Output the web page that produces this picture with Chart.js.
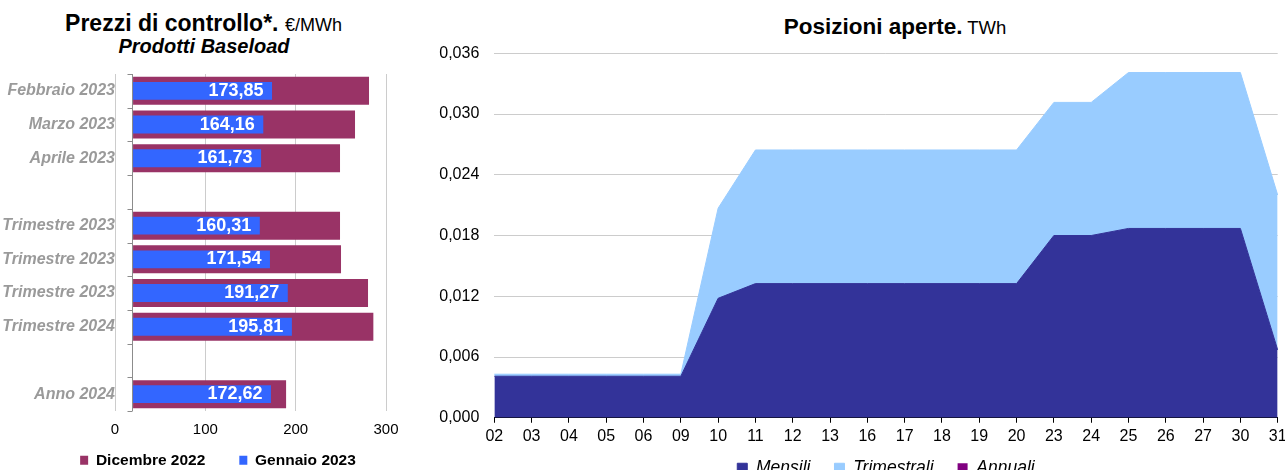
<!DOCTYPE html>
<html>
<head>
<meta charset="utf-8">
<script src="https://cdn.jsdelivr.net/npm/chart.js@4.4.1/dist/chart.umd.min.js"></script>
<style>
  html, body { margin: 0; padding: 0; background: #fff; }
  body { width: 1285px; height: 470px; overflow: hidden; position: relative; font-family: 'Liberation Sans', Arial, sans-serif; color: #000; }
  .title { position: absolute; text-align: center; white-space: nowrap; }
  canvas { position: absolute; top: 0; }
</style>
</head>
<body>
<div class="title" style="left:0;width:407px;top:10px;font-size:23px;line-height:26px;font-weight:bold">Prezzi di controllo*. <span style="font-size:18px;font-weight:normal">€/MWh</span></div>
<div class="title" style="left:0;width:408px;top:34px;font-size:20px;line-height:24px;font-weight:bold;font-style:italic">Prodotti Baseload</div>
<div class="title" style="left:595px;width:600px;top:14px;font-size:22.5px;line-height:26px;font-weight:bold">Posizioni aperte.<span style="font-size:18.5px;font-weight:normal"> TWh</span></div>

<canvas id="prezziChart" width="436" height="478" style="left:0"></canvas>
<canvas id="posizioniChart" width="875" height="487" style="left:420px"></canvas>

<script>
const FONT = "'Liberation Sans', Arial, sans-serif";
Chart.defaults.font.family = FONT;

// PREZZI DI CONTROLLO (€/MWh)
const prezziLabels = ["Febbraio 2023", "Marzo 2023", "Aprile 2023", "", "II Trimestre 2023", "III Trimestre 2023", "IV Trimestre 2023", "I Trimestre 2024", "", "Anno 2024"];
const dicembre2022 = [281.2, 265.7, 249.1, null, 249.1, 250.2, 280.1, 286.0, null, 189.4];
const gennaio2023 = [173.85, 164.16, 161.73, null, 160.31, 171.54, 191.27, 195.81, null, 172.62];
const assePartenza = 20;

// POSIZIONI APERTE (TWh)
const giorni = ["02", "03", "04", "05", "06", "09", "10", "11", "12", "13", "16", "17", "18", "19", "20", "23", "24", "25", "26", "27", "30", "31"];
const mensili = [0.0041, 0.0041, 0.0041, 0.0041, 0.0041, 0.0041, 0.0118, 0.01325, 0.01325, 0.01325, 0.01325, 0.01325, 0.01325, 0.01325, 0.01325, 0.018, 0.018, 0.0187, 0.0187, 0.0187, 0.0187, 0.0067];
const trimestrali = [0.0002, 0.0002, 0.0002, 0.0002, 0.0002, 0.0002, 0.0089, 0.0132, 0.0132, 0.0132, 0.0132, 0.0132, 0.0132, 0.0132, 0.0132, 0.01315, 0.01315, 0.0154, 0.0154, 0.0154, 0.0154, 0.0153];
const annuali = [0, 0, 0, 0, 0, 0, 0, 0, 0, 0, 0, 0, 0, 0, 0, 0, 0, 0, 0, 0, 0, 0];

const fmtIt = (v, d) => v.toFixed(d).replace(".", ",");

// category axis drawn where the bars start
const crossAxis = {
    id: "crossAxis",
    beforeDatasetsDraw(chart) {
        const { ctx, chartArea, scales: { x, y } } = chart;
        const px = Math.round(x.getPixelForValue(assePartenza)) - 0.5;
        const half = (y.getPixelForValue(1) - y.getPixelForValue(0)) / 2;
        ctx.save();
        ctx.strokeStyle = "#8c8c8c";
        ctx.lineWidth = 1;
        ctx.beginPath();
        ctx.moveTo(px, chartArea.top);
        ctx.lineTo(px, chartArea.bottom);
        for (let i = 0; i <= prezziLabels.length; i++) {
            const py = Math.round(y.getPixelForValue(i) - half) + 0.5;
            ctx.moveTo(px - 5, py);
            ctx.lineTo(px, py);
        }
        ctx.stroke();
        ctx.restore();
    }
};

// white values inside the blue bars
const valueLabels = {
    id: "valueLabels",
    afterDatasetsDraw(chart) {
        const { ctx } = chart;
        const meta = chart.getDatasetMeta(1);
        ctx.save();
        ctx.font = "bold 18px " + FONT;
        ctx.fillStyle = "#ffffff";
        ctx.textAlign = "right";
        ctx.textBaseline = "middle";
        meta.data.forEach((bar, i) => {
            if (gennaio2023[i] == null) return;
            ctx.fillText(fmtIt(gennaio2023[i], 2), bar.x - 8.5, bar.y);
        });
        ctx.restore();
    }
};

new Chart(document.getElementById("prezziChart"), {
    type: "bar",
    data: {
        labels: prezziLabels,
        datasets: [
            { label: "Dicembre 2022", data: dicembre2022, backgroundColor: "#993366", base: assePartenza, grouped: false, barPercentage: 0.83, categoryPercentage: 1, order: 2 },
            { label: "Gennaio 2023", data: gennaio2023, backgroundColor: "#3366ff", base: assePartenza, grouped: false, barPercentage: 0.53, categoryPercentage: 1, order: 1 }
        ]
    },
    options: {
        indexAxis: "y",
        responsive: false,
        animation: false,
        layout: { padding: { top: 74, left: 0, right: 0, bottom: 0 } },
        scales: {
            x: {
                min: 0, max: 300,
                ticks: { stepSize: 100, mirror: true, padding: -28, color: "#000", font: { size: 15 } },
                grid: { color: "#cccccc", drawTicks: false },
                border: { display: false },
                afterFit: s => { s.height = 7.5; }
            },
            y: {
                grid: { display: false, drawTicks: false },
                border: { display: false },
                ticks: { padding: 0, autoSkip: false, color: "#9a9a9a", font: { size: 16, weight: "bold", style: "italic" } },
                afterFit: s => { s.width = 115; }
            },
            // empty space on the right so the legend sits where the original one does
            ySpazio: {
                type: "linear",
                position: "right",
                ticks: { display: false },
                grid: { display: false, drawTicks: false },
                border: { display: false },
                afterFit: s => { s.width = 50; }
            }
        },
        plugins: {
            legend: {
                position: "bottom",
                labels: {
                    boxWidth: 8, boxHeight: 9, padding: 34, color: "#000",
                    font: { size: 15.5, weight: "bold" },
                    sort: (a, b) => a.datasetIndex - b.datasetIndex
                }
            },
            tooltip: { enabled: false }
        }
    },
    plugins: [crossAxis, valueLabels]
});

new Chart(document.getElementById("posizioniChart"), {
    type: "line",
    data: {
        labels: giorni,
        datasets: [
            { label: "Mensili", data: mensili, backgroundColor: "#333399", borderColor: "#333399", borderWidth: 1, fill: "origin", pointRadius: 0, tension: 0 },
            { label: "Trimestrali", data: trimestrali, backgroundColor: "#99ccff", borderColor: "#99ccff", borderWidth: 1, fill: "-1", pointRadius: 0, tension: 0 },
            { label: "Annuali", data: annuali, backgroundColor: "#800080", borderColor: "#800080", borderWidth: 0, fill: "-1", pointRadius: 0, tension: 0 }
        ]
    },
    options: {
        responsive: false,
        animation: false,
        layout: { padding: { top: 53.3, left: 0, right: 17.3, bottom: 0 } },
        scales: {
            x: {
                grid: { drawOnChartArea: false, color: "#000", tickLength: 5 },
                border: { color: "#000" },
                ticks: { color: "#000", mirror: true, padding: -28.8, autoSkip: false, maxRotation: 0, font: { size: 16 } },
                afterFit: s => { s.height = 17.75; }
            },
            y: {
                stacked: true,
                min: 0, max: 0.036,
                ticks: { stepSize: 0.006, padding: 15, color: "#000", font: { size: 16 }, callback: v => fmtIt(v, 3) },
                grid: { color: "#cccccc", drawTicks: false },
                border: { display: false },
                afterFit: s => { s.width = 74.3; }
            }
        },
        plugins: {
            legend: {
                position: "bottom",
                fullSize: false,
                labels: { boxWidth: 10, boxHeight: 10, padding: 24, color: "#000", font: { size: 17.5, style: "italic" } }
            },
            tooltip: { enabled: false }
        }
    }
});
</script>
</body>
</html>
